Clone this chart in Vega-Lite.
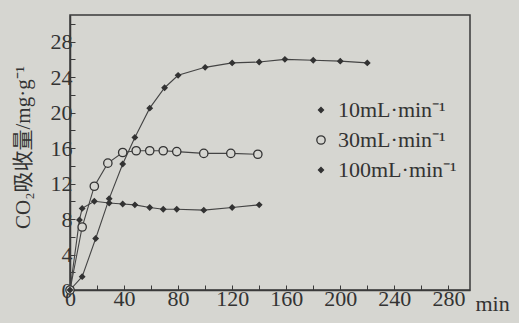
{
  "$schema": "https://vega.github.io/schema/vega-lite/v6.json",
  "width": 400,
  "height": 275,
  "autosize": {"type": "none"},
  "padding": {"left": 70, "top": 15, "right": 49, "bottom": 33},
  "background": "#d6d6d1",
  "config": {
    "view": {"stroke": "#3a3a3a", "strokeWidth": 1.5},
    "font": "Liberation Serif",
    "axis": {"labelFont": "Liberation Serif", "titleFont": "Liberation Serif", "labelColor": "#333", "titleColor": "#333", "domainColor": "#3a3a3a", "tickColor": "#3a3a3a", "grid": false, "labelFontSize": 22, "titleFontSize": 22, "titleFontWeight": "normal", "tickSize": -5, "domainWidth": 1.5}
  },
  "data": {"values": [
    {"series": "10mL·min⁻¹", "t": 0, "v": 0},
    {"series": "10mL·min⁻¹", "t": 9, "v": 1.5},
    {"series": "10mL·min⁻¹", "t": 19, "v": 5.8},
    {"series": "10mL·min⁻¹", "t": 29, "v": 10.3},
    {"series": "10mL·min⁻¹", "t": 39, "v": 14.2},
    {"series": "10mL·min⁻¹", "t": 48, "v": 17.2},
    {"series": "10mL·min⁻¹", "t": 59, "v": 20.5},
    {"series": "10mL·min⁻¹", "t": 70, "v": 22.8},
    {"series": "10mL·min⁻¹", "t": 80, "v": 24.2},
    {"series": "10mL·min⁻¹", "t": 100, "v": 25.1},
    {"series": "10mL·min⁻¹", "t": 120, "v": 25.6},
    {"series": "10mL·min⁻¹", "t": 140, "v": 25.7},
    {"series": "10mL·min⁻¹", "t": 159, "v": 26.0},
    {"series": "10mL·min⁻¹", "t": 180, "v": 25.9},
    {"series": "10mL·min⁻¹", "t": 200, "v": 25.8},
    {"series": "10mL·min⁻¹", "t": 220, "v": 25.6},
    {"series": "30mL·min⁻¹", "t": 0, "v": 0},
    {"series": "30mL·min⁻¹", "t": 9, "v": 7.1},
    {"series": "30mL·min⁻¹", "t": 18, "v": 11.7},
    {"series": "30mL·min⁻¹", "t": 28, "v": 14.3},
    {"series": "30mL·min⁻¹", "t": 39, "v": 15.5},
    {"series": "30mL·min⁻¹", "t": 49, "v": 15.7},
    {"series": "30mL·min⁻¹", "t": 59, "v": 15.7},
    {"series": "30mL·min⁻¹", "t": 69, "v": 15.7},
    {"series": "30mL·min⁻¹", "t": 79, "v": 15.6},
    {"series": "30mL·min⁻¹", "t": 99, "v": 15.4},
    {"series": "30mL·min⁻¹", "t": 119, "v": 15.4},
    {"series": "30mL·min⁻¹", "t": 139, "v": 15.3},
    {"series": "100mL·min⁻¹", "t": 0, "v": 0},
    {"series": "100mL·min⁻¹", "t": 7, "v": 7.9},
    {"series": "100mL·min⁻¹", "t": 9, "v": 9.2},
    {"series": "100mL·min⁻¹", "t": 18, "v": 10.0},
    {"series": "100mL·min⁻¹", "t": 29, "v": 9.8},
    {"series": "100mL·min⁻¹", "t": 39, "v": 9.7},
    {"series": "100mL·min⁻¹", "t": 48, "v": 9.6},
    {"series": "100mL·min⁻¹", "t": 59, "v": 9.3},
    {"series": "100mL·min⁻¹", "t": 69, "v": 9.1},
    {"series": "100mL·min⁻¹", "t": 79, "v": 9.1},
    {"series": "100mL·min⁻¹", "t": 99, "v": 9.0},
    {"series": "100mL·min⁻¹", "t": 120, "v": 9.3},
    {"series": "100mL·min⁻¹", "t": 140, "v": 9.6}
  ]},
  "encoding": {
    "x": {"field": "t", "type": "quantitative", "scale": {"domain": [0, 296], "nice": false},
      "axis": {"values": [0,20,40,60,80,100,120,140,160,180,200,220,240,260,280], "labelExpr": "datum.value % 40 == 0 ? datum.label : ''", "labelPadding": 3, "labelFlush": false, "title": "min", "titleX": 405, "titleY": 20, "titleAlign": "left", "titleBaseline": "alphabetic", "titleAnchor": null}},
    "y": {"field": "v", "type": "quantitative", "scale": {"domain": [0, 31], "nice": false},
      "axis": {"values": [0,2,4,6,8,10,12,14,16,18,20,22,24,26,28,30], "labelExpr": "datum.value % 4 == 0 && datum.value <= 28 ? datum.label : ''", "labelPadding": 3, "labelFlush": false, "title": "CO₂吸收量/mg·g⁻¹", "titleFont": "Liberation Serif, Noto Sans CJK SC", "titleFontSize": 21, "titleX": -47, "titleY": 132, "titleAngle": -90, "titleAlign": "center", "titleBaseline": "middle", "titleAnchor": null}}
  },
  "layer": [
    {"mark": {"type": "line", "color": "#444", "strokeWidth": 1.1}, "encoding": {"detail": {"field": "series"}}},
    {"mark": {"type": "point", "filled": true, "stroke": "#333", "strokeWidth": 1.3, "opacity": 1, "size": 70},
      "encoding": {
        "shape": {"field": "series", "type": "nominal", "scale": {"domain": ["10mL·min⁻¹", "30mL·min⁻¹", "100mL·min⁻¹"], "range": ["M-0.6,0L0,-0.6L0.6,0L0,0.6Z", "circle", "M-0.6,0L0,-0.6L0.6,0L0,0.6Z"]},
          "legend": {"title": null, "orient": "none", "legendX": 240, "legendY": 84, "labelFont": "Liberation Serif", "labelFontSize": 22, "labelColor": "#333", "rowPadding": 8, "symbolStrokeWidth": 1.3, "labelOffset": 6, "symbolSize": 70}},
        "fill": {"field": "series", "type": "nominal", "scale": {"domain": ["10mL·min⁻¹", "30mL·min⁻¹", "100mL·min⁻¹"], "range": ["#333", "#d6d6d1", "#333"]}, "legend": {"title": null, "orient": "none", "legendX": 240, "legendY": 84, "labelFont": "Liberation Serif", "labelFontSize": 22, "labelColor": "#333", "rowPadding": 8, "symbolStrokeWidth": 1.3, "labelOffset": 6, "symbolSize": 70}}
      }}
  ]
}
